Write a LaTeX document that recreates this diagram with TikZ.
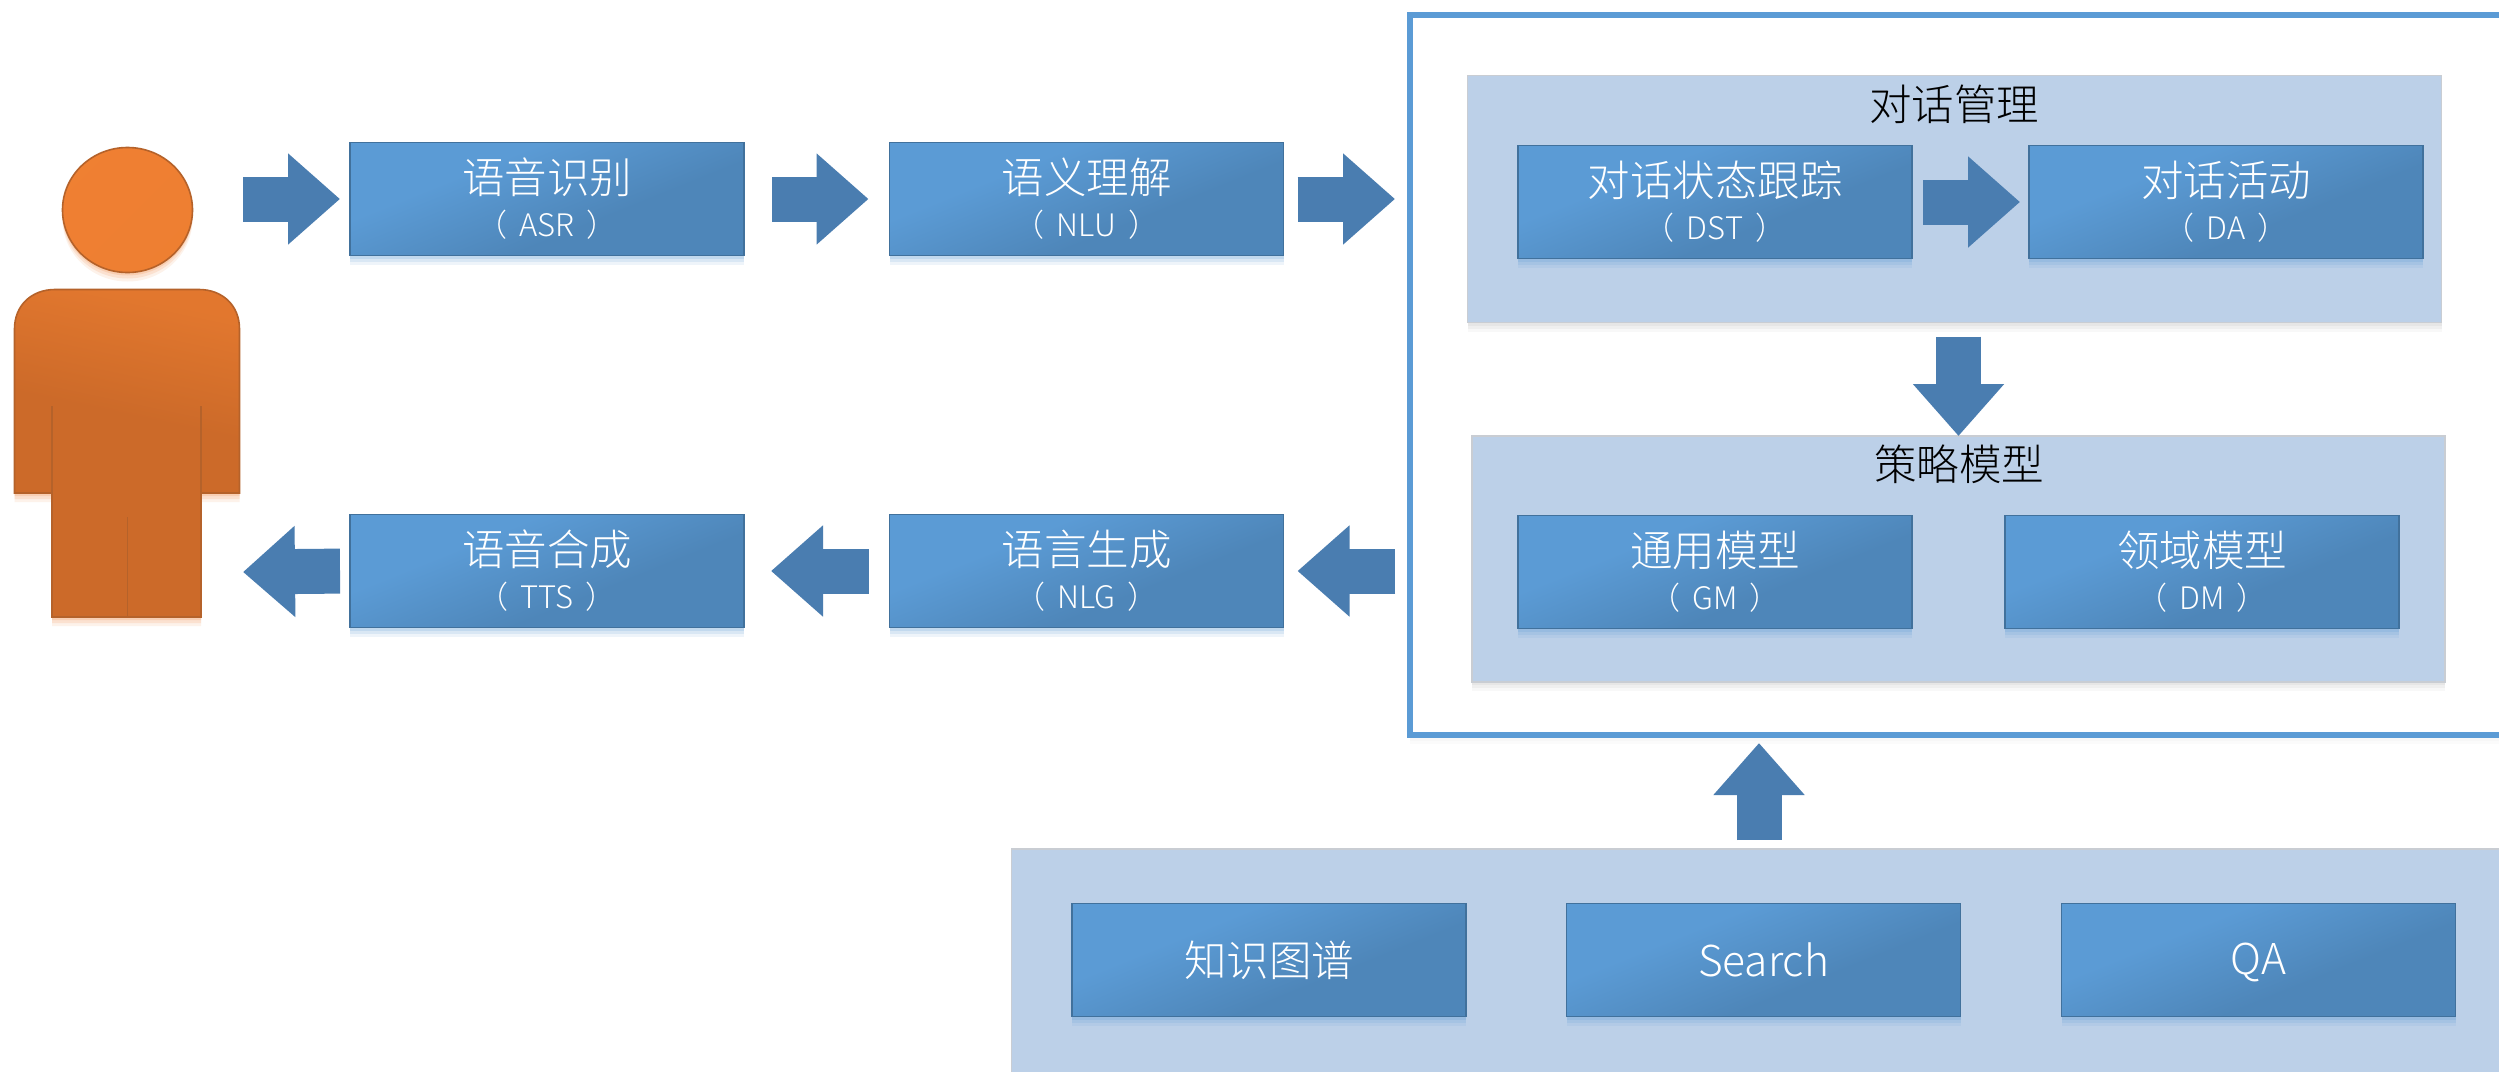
\documentclass[tikz,border=0pt]{standalone}
\usepackage{fontspec}
\setmainfont{Noto Sans CJK SC Light}
\usetikzlibrary{arrows.meta,shapes.geometric,calc}
\definecolor{gA}{HTML}{5B9BD5}
\definecolor{gB}{HTML}{4E86B9}
\definecolor{boxline}{HTML}{41719C}
\definecolor{arrowcol}{HTML}{4A7DB0}
\definecolor{panelcol}{HTML}{BCD0E8}
\definecolor{panelline}{HTML}{C9CDD3}
\definecolor{frameline}{HTML}{5B9BD5}
\definecolor{oA}{HTML}{F08032}
\definecolor{oB}{HTML}{CC6A29}
\definecolor{oline}{HTML}{B5622A}
\pgfdeclarehorizontalshading{boxgrad}{100bp}{color(0bp)=(gA); color(36bp)=(gA); color(60bp)=(gB); color(100bp)=(gB)}
\pgfdeclareverticalshading{bodygrad}{100bp}{color(0bp)=(oB); color(56bp)=(oB); color(75bp)=(oA!60!oB); color(100bp)=(oA!60!oB)}
\pgfdeclarehorizontalshading{headgrad}{100bp}{color(0bp)=(oA); color(100bp)=(oA!92!oB)}
\newcommand{\twolines}[2]{#1\\[-3pt]{\fontsize{31}{36}\selectfont （\hspace{12pt}#2\hspace{12pt}）}}
\newcommand{\oneline}[1]{\vphantom{知}#1}
\tikzset{
  softshadow/.style={
    preaction={fill=#1,fill opacity=.10,draw=none,transform canvas={yshift=-9pt}},
    preaction={fill=#1,fill opacity=.14,draw=none,transform canvas={yshift=-6pt}},
    preaction={fill=#1,fill opacity=.18,draw=none,transform canvas={yshift=-3pt}}},
  bluebox/.style={rectangle,draw=boxline,line width=1.8pt,outer sep=0pt,softshadow=gA,
    shading=boxgrad,shading angle=-68,minimum width=394pt,minimum height=113pt,
    text=white,align=center,inner sep=0pt,font=\fontsize{42.5}{46}\selectfont},
  panel/.style={rectangle,fill=panelcol,draw=panelline,line width=1.5pt,outer sep=0pt,softshadow=black!25},
  frameb/.style={rectangle,fill=white,draw=frameline,line width=6pt,outer sep=0pt,softshadow=black!12},
  paneltitle/.style={text=black,inner sep=0pt,font=\fontsize{42.5}{46}\selectfont},
  blockarrow/.style={draw=arrowcol,line width=45pt,-{Triangle[length=52pt,width=88pt]}},
  orangepart/.style={draw=oline,line width=1.6pt},
}
\begin{document}
\begin{tikzpicture}[x=1pt,y=-1pt]
\clip (0,0) rectangle (2499,1071);
\fill[white] (0,0) rectangle (2499,1071);
% frame and panels
\node[frameb,minimum width=1130pt,minimum height=720.5pt] (frame) at (1975,374.75) {};
\node[panel,minimum width=974pt,minimum height=247pt] (dmp) at (1954.5,199) {};
\node[panel,minimum width=973pt,minimum height=246pt] (spp) at (1958.5,559) {};
\node[panel,minimum width=1518.5pt,minimum height=251pt] (kbp) at (1770.75,974.5) {};
\node[paneltitle] (dmt) at (1954,104) {对话管理};
\node[paneltitle] (spt) at (1959,464) {策略模型};
% boxes
\node[bluebox] (asr) at (547,199) {\twolines{语音识别}{ASR}};
\node[bluebox] (nlu) at (1086.5,199) {\twolines{语义理解}{NLU}};
\node[bluebox] (tts) at (547,571) {\twolines{语音合成}{TTS}};
\node[bluebox] (nlg) at (1086.5,571) {\twolines{语言生成}{NLG}};
\node[bluebox] (dst) at (1715,202) {\twolines{对话状态跟踪}{DST}};
\node[bluebox] (da) at (2226,202) {\twolines{对话活动}{DA}};
\node[bluebox] (gm) at (1715,572) {\twolines{通用模型}{GM}};
\node[bluebox] (dm) at (2202,572) {\twolines{领域模型}{DM}};
\node[bluebox] (kg) at (1269,960) {\oneline{知识图谱}};
\node[bluebox] (search) at (1763.5,960) {\oneline{Search}};
\node[bluebox] (qa) at (2258.5,960) {\oneline{QA}};
% person
\node[ellipse,orangepart,softshadow=oA,shading=headgrad,shading angle=-45,minimum width=130pt,minimum height=125pt,inner sep=0pt,outer sep=0pt] (head) at (127.5,210) {};
\path[orangepart,softshadow=oA,shading=bodygrad,shading angle=-12]
  (14.5,493) -- (14.5,329) .. controls (14.5,305) and (32,289.5) .. (55,289.5)
  -- (199,289.5) .. controls (222,289.5) and (239.5,305) .. (239.5,329)
  -- (239.5,493) -- (201,493) -- (201,617) -- (52,617) -- (52,493) -- cycle;
\draw[draw=oline,line width=1.6pt] (52,406) -- (52,493);
\draw[draw=oline,line width=1.6pt] (201,406) -- (201,493);
\draw[draw=oline,line width=1.6pt] (127.5,517) -- (127.5,617);
% connectors
\coordinate (pout) at (243,199);
\coordinate (pin) at (243,572);
\coordinate (kbtop) at (1759,840);
\coordinate (frbot) at (1759,738);
\draw[blockarrow,shorten >=10pt] (pout) -- (asr.west);
\draw[blockarrow,shorten <=28pt,shorten >=21pt] (asr.east) -- (nlu.west);
\draw[blockarrow,shorten <=14pt,shorten >=15pt] (nlu.east) -- (nlu.east -| frame.west);
\draw[blockarrow,shorten <=11pt,shorten >=9pt] (dst.east) -- (da.west);
\draw[blockarrow,shorten <=14pt] (spp.north |- dmp.south) -- (spp.north);
\draw[blockarrow,shorten <=15pt,shorten >=14pt] (nlg.east -| frame.west) -- (nlg.east);
\draw[blockarrow,shorten <=21pt,shorten >=27pt] (nlg.west) -- (tts.east);
\draw[blockarrow,shorten <=10pt] (tts.west) -- (pin);
\draw[blockarrow,shorten >=5pt] (kbtop) -- (frbot);
\end{tikzpicture}
\end{document}
